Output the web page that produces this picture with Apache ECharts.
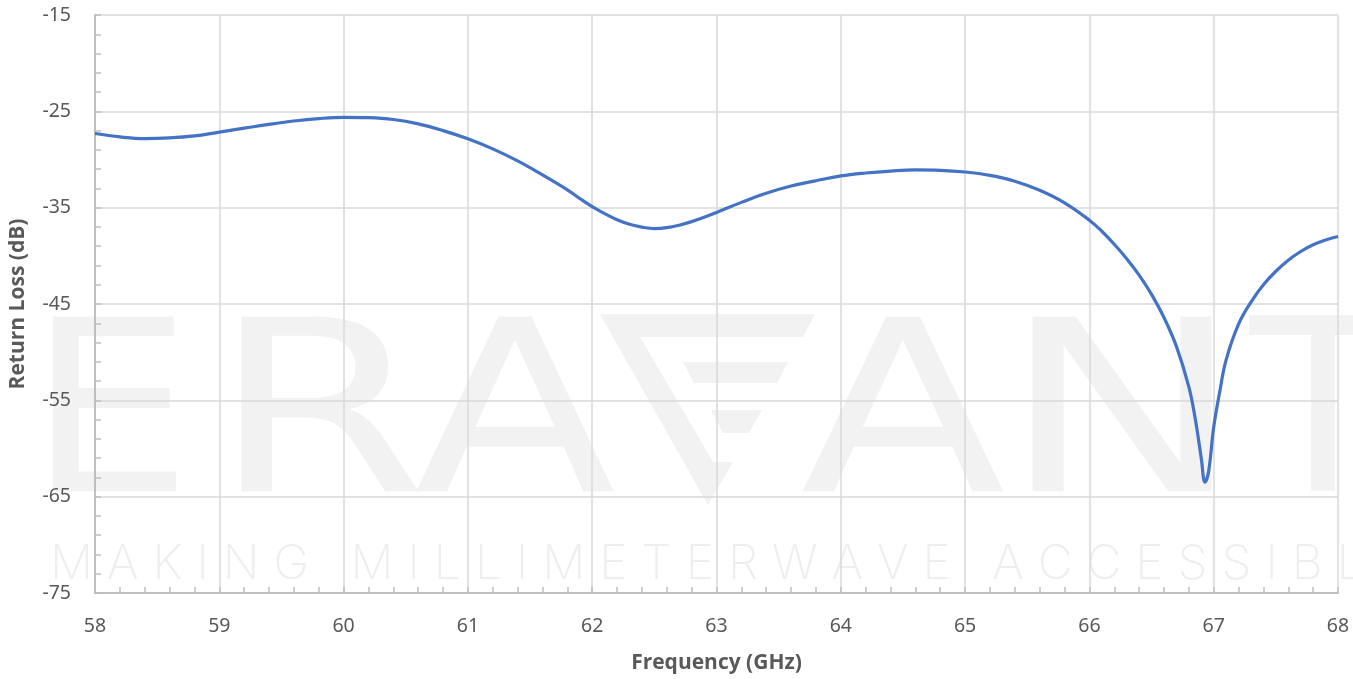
<!DOCTYPE html>
<html><head><meta charset="utf-8">
<script src="https://cdn.jsdelivr.net/npm/echarts@6/dist/echarts.min.js"></script>
<style>html,body{margin:0;padding:0;background:#fff}#c{width:1353px;height:679px}</style>
</head><body><div id="c"></div>
<script>
// ---- data ----
const freqGHz = [58,58.2,58.4,58.6,58.8,59,59.2,59.4,59.6,59.8,60,60.2,60.4,60.6,60.8,61,61.2,61.4,61.6,61.8,61.9,62,62.1,62.2,62.3,62.4,62.5,62.6,62.7,62.8,62.9,63,63.2,63.4,63.6,63.8,64,64.2,64.4,64.6,64.8,65,65.2,65.4,65.6,65.8,66,66.1,66.2,66.3,66.4,66.5,66.6,66.7,66.8,66.85,66.9,66.93,66.96,67,67.05,67.1,67.2,67.3,67.4,67.5,67.6,67.7,67.8,67.9,68];
const returnLossDb = [-27.3,-27.65,-27.83,-27.76,-27.55,-27.15,-26.75,-26.35,-26.0,-25.75,-25.62,-25.66,-25.85,-26.3,-27.0,-27.85,-28.9,-30.15,-31.6,-33.15,-34.05,-34.9,-35.62,-36.25,-36.72,-37.02,-37.17,-37.08,-36.82,-36.45,-36.0,-35.5,-34.45,-33.5,-32.75,-32.2,-31.7,-31.4,-31.2,-31.08,-31.12,-31.3,-31.65,-32.25,-33.2,-34.5,-36.3,-37.45,-38.8,-40.3,-42.0,-44.0,-46.4,-49.4,-53.6,-56.8,-61.0,-63.5,-62.3,-57.8,-54.0,-50.8,-47.1,-44.8,-43.0,-41.6,-40.45,-39.55,-38.85,-38.35,-38.0];
const xRange = [58, 68];
const yRange = [-75, -15];
const xTickStep = 1;
const yTickStep = 10;
const xTitle = 'Frequency (GHz)';
const yTitle = 'Return Loss (dB)';
const wmWord = ['E','R','A','','A','N','T'];
const wmTagline = 'MAKING MILLIMETERWAVE ACCESSIBLE';

// ---- watermark (decorative background) ----
const WM = '#f2f2f2';
const graphics = [];
const bigCenters = [110, 319, 515, null, 903, 1122, 1323];
const bigScale = [1.09, 1.3, 1.23, 1, 1.25, 1.35, 1.0];
wmWord.forEach((ch, i) => {
  if (!ch) return;
  graphics.push({type:'text', z:-10, silent:true, x:bigCenters[i], y:429, scaleX:bigScale[i],
    style:{text:ch, fill:WM, font:'normal 240px "DejaVu Sans"', textAlign:'center', textVerticalAlign:'middle'}});
});
// stylised V of the logo
const vShapes = [
  [[600,314],[815,314],[803,337],[640,337],[713,462],[733,462],[708,505]],
  [[683,362],[788,362],[777,383],[694,383]],
  [[711,410],[762,410],[749,433],[723,433]]
];
vShapes.forEach(p => graphics.push({type:'polygon', z:-10, silent:true, shape:{points:p}, style:{fill:WM}}));
// tagline, letter spaced
const tagFont = '200 48px Inter';
const cv = document.createElement('canvas').getContext('2d');
cv.font = tagFont;
let tx = 50;
const LS = 14;
for (const ch of wmTagline) {
  const w = cv.measureText(ch).width;
  if (ch !== ' ') graphics.push({type:'text', z:-10, silent:true, x:tx, y:565,
    style:{text:ch, fill:'#eeeeee', font:tagFont, textAlign:'left', textVerticalAlign:'middle'}});
  tx += w + LS;
}

const chart = echarts.init(document.getElementById('c'), null, {renderer:'canvas'});
const axisGray = '#bfbfbf';
const labelFont = {color:'#595959', fontSize:19.5, fontFamily:'"Noto Sans", "Open Sans", sans-serif'};
const titleFont = {color:'#595959', fontSize:21, fontWeight:'bold', fontFamily:'"Open Sans", "Noto Sans", sans-serif'};
chart.setOption({
  animation:false,
  backgroundColor:'#ffffff',
  grid:{left:95, right:15, top:15, bottom:79, containLabel:false},
  graphic: graphics,
  xAxis:{type:'value', min:xRange[0], max:xRange[1], interval:xTickStep,
    name:xTitle, nameLocation:'middle', nameGap:60, nameTextStyle:titleFont,
    axisLine:{show:true, lineStyle:{color:axisGray, width:2}},
    axisTick:{show:true, inside:true, length:6, lineStyle:{color:axisGray, width:1.5}},
    minorTick:{show:true, splitNumber:5, length:6, lineStyle:{color:axisGray, width:1.5}},
    splitLine:{show:true, lineStyle:{color:'#d9d9d9', width:1.5}},
    axisLabel:Object.assign({margin:23}, labelFont)
  },
  yAxis:{type:'value', min:yRange[0], max:yRange[1], interval:yTickStep,
    name:yTitle, nameLocation:'middle', nameGap:66, nameRotate:90, nameTextStyle:titleFont,
    axisLine:{show:true, lineStyle:{color:axisGray, width:2}},
    axisTick:{show:true, inside:true, length:6, lineStyle:{color:axisGray, width:1.5}},
    minorTick:{show:true, splitNumber:5, length:6, lineStyle:{color:axisGray, width:1.5}},
    splitLine:{show:true, lineStyle:{color:'#d9d9d9', width:1.5}},
    axisLabel:Object.assign({margin:24}, labelFont)
  },
  series:[{type:'line', data:freqGHz.map((f,i)=>[f, returnLossDb[i]]), smooth:0.4,
    showSymbol:false, symbol:'none', lineStyle:{color:'#4472C4', width:3.2}, z:5}]
});
</script></body></html>
